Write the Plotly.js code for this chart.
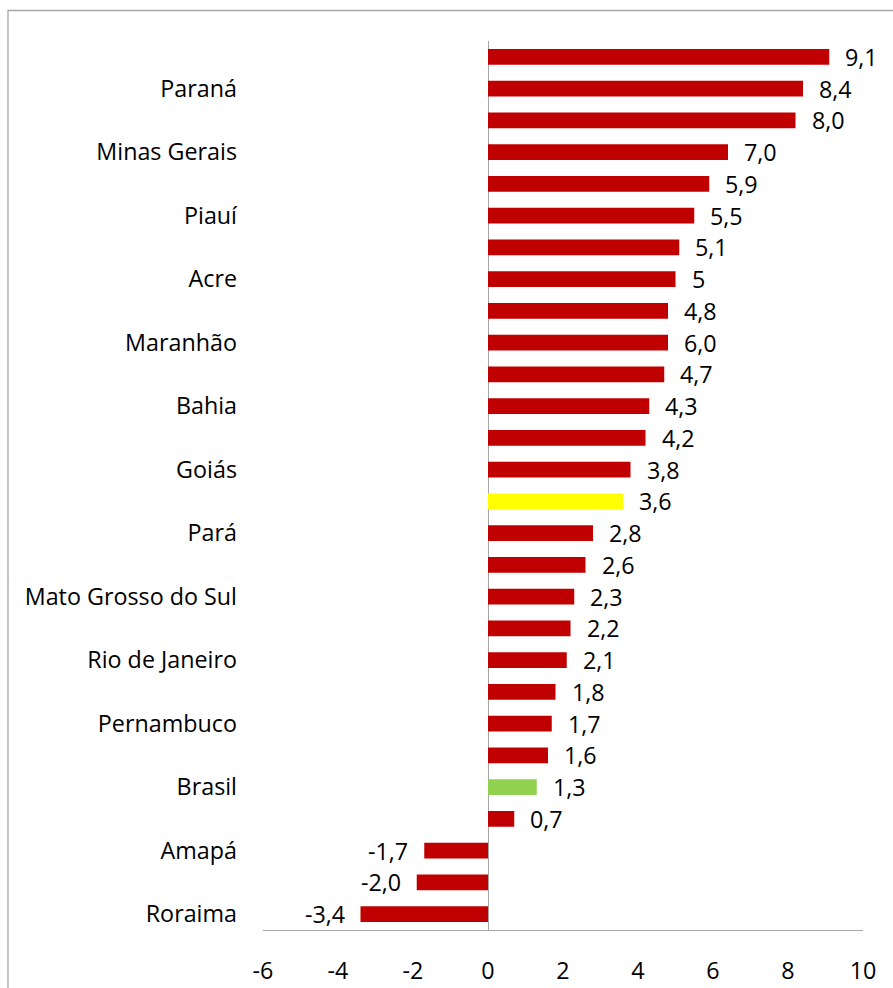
<!DOCTYPE html>
<html>
<head>
<meta charset="utf-8">
<script src="https://cdn.plot.ly/plotly-3.0.1.min.js"></script>
<style>html,body{margin:0;padding:0;background:#fff;}#chart{width:893px;height:988px;}</style>
</head>
<body>
<div id="chart"></div>
<script>
// Categories from top to bottom ("" = row whose label is not shown)
const categories = ["", "Paraná", "", "Minas Gerais", "", "Piauí", "", "Acre", "", "Maranhão",
  "", "Bahia", "", "Goiás", "", "Pará", "", "Mato Grosso do Sul", "", "Rio de Janeiro",
  "", "Pernambuco", "", "Brasil", "", "Amapá", "", "Roraima"];
// Bar lengths
const values = [9.1, 8.4, 8.2, 6.4, 5.9, 5.5, 5.1, 5.0, 4.8, 4.8,
  4.7, 4.3, 4.2, 3.8, 3.6, 2.8, 2.6, 2.3, 2.2, 2.1,
  1.8, 1.7, 1.6, 1.3, 0.7, -1.7, -1.9, -3.4];
// Data labels as printed in the picture
const valueLabels = ["9,1", "8,4", "8,0", "7,0", "5,9", "5,5", "5,1", "5", "4,8", "6,0",
  "4,7", "4,3", "4,2", "3,8", "3,6", "2,8", "2,6", "2,3", "2,2", "2,1",
  "1,8", "1,7", "1,6", "1,3", "0,7", "-1,7", "-2,0", "-3,4"];
const barColors = values.map((v, i) => i === 14 ? "#FFFF00" : (i === 23 ? "#92D050" : "#C00000"));
const xTicks = [-6, -4, -2, 0, 2, 4, 6, 8, 10];

const FONT = "Open Sans, Noto Sans, sans-serif";
const FS = 23.3;
const positions = categories.map((c, i) => i);
const tickIdx = positions.filter(i => categories[i] !== "");

const trace = {
  type: "bar",
  orientation: "h",
  x: values,
  y: positions,
  marker: {color: barColors},
  hoverinfo: "none",
  width: 0.495
};

const annotations = values.map((v, i) => ({
  x: v, y: i, xref: "x", yref: "y",
  text: valueLabels[i],
  showarrow: false,
  xanchor: v >= 0 ? "left" : "right",
  yanchor: "middle",
  xshift: v >= 0 ? 14 : -14,
  font: {family: FONT, size: FS, color: "#000"}
}));

const layout = {
  width: 893, height: 988,
  margin: {l: 263, r: 30, t: 41, b: 58, pad: 0},
  paper_bgcolor: "#fff", plot_bgcolor: "#fff",
  showlegend: false,
  font: {family: FONT, size: FS, color: "#000"},
  xaxis: {
    range: [-6, 10],
    tickvals: xTicks,
    ticktext: xTicks.map(String),
    showgrid: false,
    zeroline: true, zerolinecolor: "#a6a6a6", zerolinewidth: 1,
    showline: true, linecolor: "#a6a6a6", linewidth: 1,
    ticks: "",
    ticklabelstandoff: 20,
    tickfont: {family: FONT, size: FS, color: "#000"},
    fixedrange: true
  },
  yaxis: {
    range: [27.5, -0.5],
    tickvals: tickIdx,
    ticktext: tickIdx.map(i => categories[i]),
    showgrid: false, zeroline: false, showline: false,
    ticks: "",
    ticklabelstandoff: 25,
    tickfont: {family: FONT, size: FS, color: "#000"},
    fixedrange: true
  },
  annotations: annotations,
  shapes: [{
    type: "rect", xref: "paper", yref: "paper",
    x0: -0.425, x1: 1.07, y0: -0.08, y1: 1.0343,
    line: {color: "#a6a6a6", width: 1.3}, fillcolor: "rgba(0,0,0,0)", layer: "below"
  }]
};

Plotly.newPlot("chart", [trace], layout, {staticPlot: true, displayModeBar: false});
</script>
</body>
</html>
